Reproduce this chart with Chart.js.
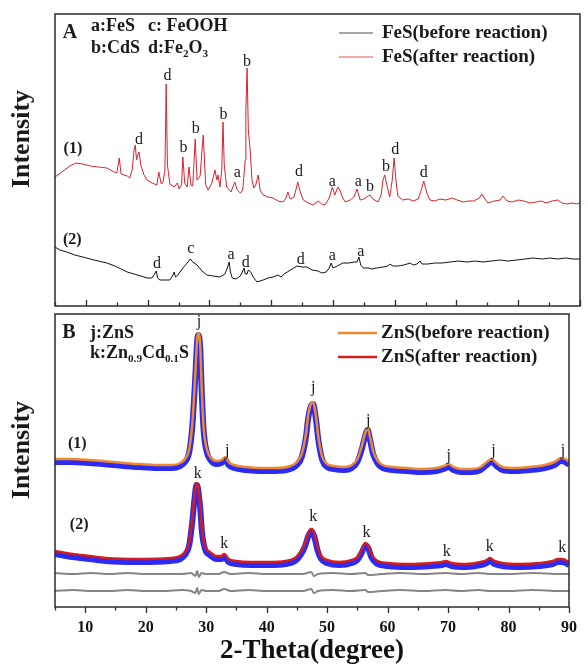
<!DOCTYPE html>
<html>
<head>
<meta charset="utf-8">
<script src="https://cdn.jsdelivr.net/npm/chart.js@4.4.0/dist/chart.umd.min.js"></script>
<style>
html, body { margin: 0; padding: 0; background: #fff; }
#wrap { position: relative; width: 588px; height: 665px; }
.panel { position: absolute; left: 0; width: 588px; }
</style>
</head>
<body>
<div id="wrap">
	<div class="panel" style="top:0;height:312px"><canvas id="chartA"></canvas></div>
	<div class="panel" style="top:310px;height:355px"><canvas id="chartB"></canvas></div>
</div>
<script>
'use strict';

// ---- data: [2-theta, intensity (a.u.)] ----
var fesBefore = [
	[5.0,59],[5.8,56],[6.9,54],[8.2,51],[9.5,49],[10.7,47],[12.0,45],[13.4,43],[14.7,40],[15.7,37],
	[16.7,34],[17.8,32],[18.9,30],[19.9,28],[20.7,28],[21.1,32],[21.4,35],[21.6,28],[22.0,26],[22.8,26],
	[23.6,26],[24.1,31],[24.3,34],[24.5,29],[24.9,31],[25.7,38],[26.4,43],[26.9,47],[27.3,44],[28.0,41],
	[28.8,35],[29.6,31],[30.6,30],[31.7,29],[32.5,32],[32.9,38],[33.2,44],[33.4,34],[33.7,28],[34.3,27],
	[35.0,30],[35.4,35],[35.6,38],[35.8,32],[36.1,32],[36.3,36],[36.7,34],[37.1,29],[37.7,24],[38.7,26],
	[39.5,28],[40.3,29],[41.1,31],[41.6,29],[42.1,32],[42.6,34],[43.4,37],[44.2,40],[45.0,39],[45.8,39],
	[46.6,36],[47.6,35],[48.2,33],[48.9,34],[49.4,38],[49.7,43],[50.0,38],[50.7,40],[51.6,43],[52.6,43],
	[53.4,44],[53.9,44],[54.2,49],[54.5,41],[54.9,38],[55.7,38],[56.3,37],[57.1,38],[58.1,39],[58.9,40],
	[59.2,42],[59.7,40],[60.5,40],[61.5,41],[62.5,43],[63.0,41],[63.6,42],[64.1,45],[64.4,42],[65.4,42],
	[66.5,43],[67.7,43],[69.0,44],[70.3,45],[71.7,44],[73.0,45],[74.3,44],[75.6,45],[77.1,46],[78.3,45],
	[79.8,46],[81.1,47],[82.4,48],[83.9,47],[85.1,48],[86.4,47],[87.7,48],[88.9,47],[90.0,47]
];
var fesAfter = [
	[5.0,129],[6.1,134],[7.4,140],[8.4,143],[9.5,142],[10.7,140],[12.0,139],[13.4,138],[14.6,134],[15.0,133],
	[15.4,148],[15.7,132],[16.7,130],[17.1,128],[17.5,136],[17.8,156],[18.0,161],[18.2,146],[18.4,151],[18.6,154],
	[18.9,141],[19.4,131],[19.9,126],[20.7,123],[21.5,121],[21.8,134],[22.2,122],[22.5,124],[22.8,136],[23.0,222],
	[23.2,141],[23.6,122],[24.3,119],[24.8,123],[25.1,117],[25.5,122],[25.7,149],[26.0,123],[26.4,119],[26.7,139],
	[27.0,121],[27.3,120],[27.7,167],[28.0,126],[28.5,130],[28.8,156],[29.0,171],[29.2,146],[29.4,121],[29.8,116],
	[30.4,123],[30.9,136],[31.2,126],[31.4,131],[31.7,119],[32.0,136],[32.2,184],[32.4,141],[32.8,119],[33.5,114],
	[34.1,124],[34.5,116],[35.0,113],[35.4,116],[35.8,146],[35.9,196],[36.1,238],[36.3,176],[36.6,156],[36.9,126],
	[37.2,118],[37.5,121],[37.9,131],[38.2,116],[38.7,111],[39.5,109],[40.3,108],[41.1,105],[41.9,104],[42.4,108],
	[42.7,114],[43.1,107],[43.7,109],[44.0,116],[44.3,124],[44.7,114],[45.2,106],[46.0,103],[46.8,101],[47.6,105],
	[48.2,102],[48.7,101],[49.4,108],[49.9,119],[50.3,111],[50.8,119],[51.1,116],[51.6,108],[52.0,104],[52.8,106],
	[53.4,109],[53.9,117],[54.4,106],[55.0,107],[55.7,110],[56.0,111],[56.5,107],[57.3,104],[57.8,111],[58.1,126],
	[58.4,131],[58.8,119],[59.2,109],[59.6,126],[59.9,148],[60.2,126],[60.5,110],[61.3,106],[62.2,107],[63.0,105],
	[63.8,107],[64.3,116],[64.7,125],[65.2,113],[65.7,106],[66.5,105],[67.3,107],[68.3,106],[69.3,108],[70.1,106],
	[71.1,104],[71.9,105],[72.8,105],[73.7,108],[74.1,112],[74.6,107],[75.1,103],[76.1,105],[77.1,106],[77.5,110],
	[78.2,105],[79.0,104],[80.0,106],[80.9,105],[81.9,103],[82.9,104],[83.7,105],[84.5,103],[85.5,105],[86.4,106],
	[87.1,103],[87.9,102],[88.7,103],[89.4,102],[90.0,103]
];
var znsBefore = [
	[5.0,148],[7.4,148],[10.7,147],[14.7,145],[18.8,143],[22.0,142],[24.4,142],[25.7,144],[26.5,148],[27.2,158],
	[27.7,183],[28.2,233],[28.5,268],[28.7,274],[29.0,263],[29.3,213],[29.6,178],[30.1,158],[30.7,150],[31.7,146],
	[32.5,147],[33.2,150],[33.7,145],[34.6,142],[36.6,140],[39.0,139],[41.4,139],[43.9,141],[45.0,145],[45.8,153],
	[46.5,173],[46.9,193],[47.4,204],[47.7,205],[48.1,193],[48.6,168],[49.2,150],[50.0,143],[51.1,141],[52.8,140],
	[54.1,142],[55.0,148],[55.7,160],[56.2,172],[56.7,179],[57.1,170],[57.6,156],[58.4,146],[59.2,142],[60.9,140],
	[63.3,139],[65.7,138],[68.1,139],[69.3,141],[70.1,143],[70.9,140],[72.2,138],[73.8,138],[75.4,140],[76.4,145],
	[77.2,148],[78.0,144],[79.0,140],[81.1,139],[83.5,140],[86.0,142],[87.6,145],[88.7,149],[89.4,148],[90.0,145]
];
var znsBeforeFit = [
	[5.0,145],[7.4,145],[10.7,144],[14.7,142],[18.8,140],[22.0,139],[24.4,139],[25.7,141],[26.5,145],[27.2,155],
	[27.7,180],[28.2,230],[28.5,265],[28.7,272],[29.0,260],[29.3,210],[29.6,175],[30.1,155],[30.7,147],[31.7,143],
	[32.5,144],[33.2,147],[33.7,142],[34.6,139],[36.6,137],[39.0,136],[41.4,136],[43.9,138],[45.0,142],[45.8,150],
	[46.5,170],[46.9,190],[47.4,202],[47.7,203],[48.1,190],[48.6,165],[49.2,147],[50.0,140],[51.1,138],[52.8,137],
	[54.1,139],[55.0,145],[55.7,157],[56.2,169],[56.7,177],[57.1,167],[57.6,153],[58.4,143],[59.2,139],[60.9,137],
	[63.3,136],[65.7,135],[68.1,136],[69.3,138],[70.1,140],[70.9,137],[72.2,135],[73.8,135],[75.4,137],[76.4,142],
	[77.2,145],[78.0,141],[79.0,137],[81.1,136],[83.5,137],[86.0,139],[87.6,142],[88.7,146],[89.4,145],[90.0,142]
];
var znsAfter = [
	[5.0,56],[7.9,53],[10.7,51],[13.4,49],[18.8,48],[24.1,49],[25.7,51],[26.5,55],[27.2,65],[27.7,88],
	[28.1,113],[28.4,124],[28.6,122],[29.0,103],[29.3,78],[29.8,61],[30.6,55],[31.7,51],[32.5,51],[33.0,53],
	[33.7,48],[35.0,46],[37.4,45],[40.3,45],[43.1,46],[44.7,49],[45.6,55],[46.3,63],[46.9,74],[47.4,78],
	[47.9,73],[48.4,60],[49.0,51],[50.0,47],[52.0,45],[54.1,47],[55.0,50],[55.7,57],[56.3,64],[56.8,62],
	[57.3,53],[58.1,47],[60.1,44],[63.6,43],[67.3,44],[69.0,45],[69.6,46],[70.6,44],[73.0,43],[75.4,45],
	[76.4,47],[76.9,49],[77.7,46],[79.0,44],[81.9,43],[85.1,44],[87.3,46],[88.2,48],[88.9,48],[90.0,45]
];
var znsAfterFit = [
	[5.0,53],[7.9,50],[10.7,48],[13.4,46],[18.8,45],[24.1,46],[25.7,48],[26.5,52],[27.2,62],[27.7,85],
	[28.1,110],[28.4,122],[28.6,120],[29.0,100],[29.3,75],[29.8,58],[30.6,52],[31.7,48],[32.5,48],[33.0,50],
	[33.7,45],[35.0,43],[37.4,42],[40.3,42],[43.1,43],[44.7,46],[45.6,52],[46.3,60],[46.9,71],[47.4,76],
	[47.9,70],[48.4,57],[49.0,48],[50.0,44],[52.0,42],[54.1,44],[55.0,47],[55.7,54],[56.3,61],[56.8,59],
	[57.3,50],[58.1,44],[60.1,41],[63.6,40],[67.3,41],[69.0,42],[69.6,43],[70.6,41],[73.0,40],[75.4,42],
	[76.4,44],[76.9,46],[77.7,43],[79.0,41],[81.9,40],[85.1,41],[87.3,43],[88.2,45],[88.9,45],[90.0,42]
];
var residual1 = [
	[5,34],[8,33],[11,34],[14,33],[17,34],[20,33],[23,33],[26,33],[27.5,34],[28.2,31],
	[28.5,36],[28.8,30],[29.2,34],[30,33],[32,33],[33,35],[34,33],[37,34],[40,33],[44,33],
	[46,33],[47.4,35],[47.8,31],[48.5,33],[51,34],[54,33],[56.3,34],[56.8,32],[59,33],[62,34],
	[66,33],[69.6,34],[72,33],[75,34],[77,33],[80,33],[84,34],[88.5,33],[90,33]
];
var residual2 = [
	[5,16],[8,17],[11,16],[14,16],[17,17],[20,16],[23,16],[26,17],[27.5,16],[28.2,14],
	[28.5,19],[28.8,13],[29.2,17],[30,16],[32,16],[33,18],[34,16],[37,17],[40,16],[44,16],
	[46,16],[47.4,18],[47.8,14],[48.5,16],[51,17],[54,16],[56.3,17],[56.8,15],[59,16],[62,17],
	[66,16],[69.6,17],[72,16],[75,17],[77,16],[80,16],[84,17],[88.5,16],[90,16]
];

// peak labels: [text, 2-theta, intensity]
var fesAfterPeaks = [
	['d',18.6,166],['d',23.2,230],['b',25.8,158],['b',27.8,177],['b',32.3,191],['b',36.1,244],['a',34.5,133],
	['d',44.5,134],['a',49.9,124],['a',54.1,124],['b',56.0,119],['b',58.6,139],['d',60.1,156],['d',64.7,133]
];
var fesBeforePeaks = [
	['d',21.5,42],['c',27.0,57],['a',33.5,51],['d',35.9,43],['d',44.8,46],['a',49.9,50],['a',54.5,54]
];
var znsBeforePeaks = [
	['j',28.8,285],['j',33.5,156],['j',47.7,219],['j',56.8,186],['j',70.1,151],['j',77.5,156],['j',89.0,156]
];
var znsAfterPeaks = [
	['k',28.6,133],['k',33.0,63],['k',47.7,90],['k',56.5,74],['k',69.8,55],['k',76.9,60],['k',88.9,59]
];
var tickTheta = [5,10,15,20,25,30,35,40,45,50,55,60,65,70,75,80,85,90];

var SERIF = '"Liberation Serif", "Times New Roman", serif';

function points(rows) {
	return rows.map(function (r) { return { x: r[0], y: r[1] }; });
}

function drawRich(ctx, x, y, parts, size, align) {
	var w = 0;
	parts.forEach(function (p) {
		ctx.font = 'bold ' + (p.sub ? size * 0.62 : size) + 'px ' + SERIF;
		w += ctx.measureText(p.t).width;
	});
	if (align === 'center') x -= w / 2;
	ctx.textAlign = 'left';
	parts.forEach(function (p) {
		ctx.font = 'bold ' + (p.sub ? size * 0.62 : size) + 'px ' + SERIF;
		ctx.fillText(p.t, x, p.sub ? y + size * 0.32 : y);
		x += ctx.measureText(p.t).width;
	});
}

// frame, ticks, labels, legend
var decor = {
	id: 'decor',
	afterDatasetsDraw: function (chart, args, o) {
		var ctx = chart.ctx, a = chart.chartArea;
		var xs = chart.scales.x, ys = chart.scales.y;
		ctx.save();
		ctx.strokeStyle = '#2b2b2b';
		ctx.lineWidth = 1.5;
		ctx.strokeRect(a.left, a.top, a.right - a.left, a.bottom - a.top);

		ctx.lineWidth = 1.3;
		tickTheta.forEach(function (t) {
			var px = Math.round(xs.getPixelForValue(t)) + 0.5;
			var len = t % 10 === 0 ? 6 : 3.5;
			ctx.beginPath();
			ctx.moveTo(px, a.bottom);
			ctx.lineTo(px, o.ticksInside ? a.bottom - len : a.bottom + len);
			ctx.stroke();
		});

		ctx.fillStyle = '#1a1a1a';
		ctx.textBaseline = 'middle';
		ctx.textAlign = 'center';
		ctx.font = '16px ' + SERIF;
		o.peaks.forEach(function (list) {
			list.forEach(function (p) {
				ctx.fillText(p[0], xs.getPixelForValue(p[1]), ys.getPixelForValue(p[2]));
			});
		});
		ctx.font = 'bold 16px ' + SERIF;
		o.curveTags.forEach(function (p) {
			ctx.fillText(p[0], xs.getPixelForValue(p[1]), ys.getPixelForValue(p[2]));
		});

		o.header.forEach(function (h) {
			drawRich(ctx, h.x, h.y, h.parts, h.size, h.align);
		});

		o.legend.forEach(function (l) {
			ctx.strokeStyle = l.color;
			ctx.lineWidth = l.width;
			ctx.beginPath();
			ctx.moveTo(l.x1, l.y);
			ctx.lineTo(l.x2, l.y);
			ctx.stroke();
			ctx.fillStyle = '#1a1a1a';
			ctx.textAlign = 'left';
			ctx.font = 'bold 19px ' + SERIF;
			ctx.fillText(l.text, l.tx, l.y);
		});

		ctx.translate(o.yTitle.x, o.yTitle.y);
		ctx.rotate(-Math.PI / 2);
		ctx.textAlign = 'center';
		ctx.font = 'bold 26px ' + SERIF;
		ctx.fillText('Intensity', 0, 0);
		ctx.restore();
	}
};

var chartA = new Chart(document.getElementById('chartA'), {
	type: 'line',
	data: {
		datasets: [{
			label: 'FeS(after reaction)',
			data: points(fesAfter),
			borderColor: '#d6242b',
			borderWidth: 1
		}, {
			label: 'FeS(before reaction)',
			data: points(fesBefore),
			borderColor: '#111111',
			borderWidth: 1
		}]
	},
	options: {
		responsive: true,
		maintainAspectRatio: false,
		animation: false,
		layout: { padding: { left: 55, right: 8, top: 14, bottom: 6 } },
		elements: { point: { radius: 0 }, line: { tension: 0 } },
		scales: {
			x: { type: 'linear', min: 5, max: 90, display: false },
			y: { min: 0, max: 292, display: false }
		},
		plugins: {
			legend: { display: false },
			tooltip: { enabled: false },
			decor: {
				ticksInside: true,
				yTitle: { x: 22, y: 139 },
				peaks: [fesAfterPeaks, fesBeforePeaks],
				curveTags: [['(1)', 7.9, 157], ['(2)', 7.8, 66]],
				header: [
					{ x: 70, y: 33, size: 20, align: 'center', parts: [{ t: 'A' }] },
					{ x: 91, y: 26, size: 18, parts: [{ t: 'a:FeS' }] },
					{ x: 148, y: 26, size: 18, parts: [{ t: 'c: FeOOH' }] },
					{ x: 91, y: 48, size: 18, parts: [{ t: 'b:CdS' }] },
					{ x: 148, y: 48, size: 18, parts: [{ t: 'd:Fe' }, { t: '2', sub: true }, { t: 'O' }, { t: '3', sub: true }] }
				],
				legend: [
					{ x1: 339, x2: 373, tx: 382, y: 33, color: '#8a8a8a', width: 1.5, text: 'FeS(before reaction)' },
					{ x1: 339, x2: 373, tx: 382, y: 57, color: '#f08c8c', width: 1.5, text: 'FeS(after reaction)' }
				]
			}
		}
	},
	plugins: [decor]
});

var chartB = new Chart(document.getElementById('chartB'), {
	type: 'line',
	data: {
		datasets: [{
			label: 'ZnS(before reaction)',
			data: points(znsBefore),
			borderColor: '#ef8a2c',
			borderWidth: 2.5,
			order: 1
		}, {
			label: 'ZnS(after reaction)',
			data: points(znsAfter),
			borderColor: '#d41c1c',
			borderWidth: 2.5,
			order: 1
		}, {
			label: 'fit 1',
			data: points(znsBeforeFit),
			borderColor: '#2b2bf5',
			borderWidth: 6,
			order: 2
		}, {
			label: 'fit 2',
			data: points(znsAfterFit),
			borderColor: '#2b2bf5',
			borderWidth: 6,
			order: 2
		}, {
			label: 'residual 1',
			data: points(residual1),
			borderColor: '#858585',
			borderWidth: 2,
			order: 3
		}, {
			label: 'residual 2',
			data: points(residual2),
			borderColor: '#858585',
			borderWidth: 2,
			order: 3
		}]
	},
	options: {
		responsive: true,
		maintainAspectRatio: false,
		animation: false,
		layout: { padding: { left: 55, right: 8, top: 4, bottom: 0 } },
		elements: { point: { radius: 0 }, line: { cubicInterpolationMode: 'monotone' } },
		scales: {
			x: {
				type: 'linear',
				min: 5,
				max: 90,
				grid: { display: false, drawTicks: false },
				border: { display: false },
				ticks: {
					stepSize: 5,
					autoSkip: false,
					maxRotation: 0,
					padding: 11,
					color: '#111',
					font: { family: SERIF, size: 16, weight: 'bold' },
					callback: function (v) { return v % 10 === 0 ? v : ''; }
				},
				title: {
					display: true,
					text: '2-Theta(degree)',
					color: '#111',
					padding: { top: 0, bottom: -2 },
					font: { family: SERIF, size: 27, weight: 'bold' }
				},
				afterFit: function (scale) { scale.height = 58; }
			},
			y: { min: 0, max: 293, display: false }
		},
		plugins: {
			legend: { display: false },
			tooltip: { enabled: false },
			decor: {
				ticksInside: false,
				yTitle: { x: 22, y: 140 },
				peaks: [znsBeforePeaks, znsAfterPeaks],
				curveTags: [['(1)', 8.7, 163], ['(2)', 9.0, 82]],
				header: [
					{ x: 69, y: 23, size: 20, align: 'center', parts: [{ t: 'B' }] },
					{ x: 90, y: 23, size: 18, parts: [{ t: 'j:ZnS' }] },
					{ x: 90, y: 43, size: 18, parts: [{ t: 'k:Zn' }, { t: '0.9', sub: true }, { t: 'Cd' }, { t: '0.1', sub: true }, { t: 'S' }] }
				],
				legend: [
					{ x1: 338, x2: 377, tx: 381, y: 23, color: '#ef8a2c', width: 2.5, text: 'ZnS(before reaction)' },
					{ x1: 338, x2: 377, tx: 381, y: 47, color: '#d41c1c', width: 2.5, text: 'ZnS(after reaction)' }
				]
			}
		}
	},
	plugins: [decor]
});
</script>
</body>
</html>
